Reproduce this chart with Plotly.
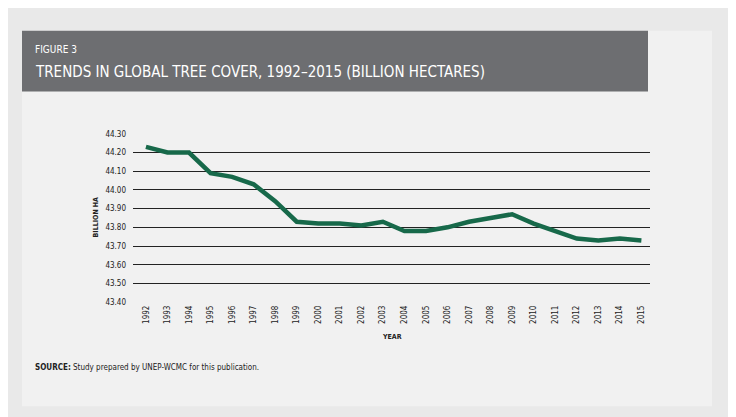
import plotly.graph_objects as go

years = [str(y) for y in range(1992, 2016)]
cover = [44.23, 44.20, 44.20, 44.09, 44.07, 44.03, 43.94, 43.83, 43.82, 43.82, 43.81, 43.83,
         43.78, 43.78, 43.80, 43.83, 43.85, 43.87, 43.82, 43.78, 43.74, 43.73, 43.74, 43.73]
y_ticks = [43.40, 43.50, 43.60, 43.70, 43.80, 43.90, 44.00, 44.10, 44.20, 44.30]

W, H = 736, 417
OFF_X, OFF_Y = 8, 8  # page margin compensation
FONT = "DejaVu Sans Condensed, Liberation Sans Narrow, sans-serif"
BG_OUT = "#e9e9e9"
BG_IN = "#f1f1f1"

def px(x):
    return (x - OFF_X) / W

def py(y):
    return 1 - (y - OFF_Y) / H

def rect(x0, x1, y0, y1, color):
    return dict(type="rect", xref="paper", yref="paper", x0=px(x0), x1=px(x1),
                y0=py(y1), y1=py(y0), fillcolor=color, line_width=0, layer="below")

fig = go.Figure(go.Scatter(x=years, y=cover, mode="lines",
                           line=dict(color="#17694a", width=4.5), showlegend=False))

fig.update_layout(
    width=W, height=H, margin=dict(l=0, r=0, t=0, b=0),
    paper_bgcolor=BG_IN, plot_bgcolor=BG_IN,
    font=dict(family=FONT, color="#222"),
    xaxis=dict(domain=[px(133), px(650)], type="category", tickangle=-90,
               tickfont=dict(size=8, color="#222"), showgrid=False, ticks="",
               range=[-0.6, 23.4]),
    yaxis=dict(domain=[py(305), py(132)], range=[43.395, 44.305], tickvals=y_ticks,
               tickformat=".2f", tickfont=dict(size=8, color="#222"),
               gridcolor="#222", gridwidth=1, zeroline=False, ticklabelstandoff=6),
    shapes=[
        rect(-20, 22, -20, 450, BG_OUT),
        rect(712, 760, -20, 450, BG_OUT),
        rect(-20, 760, -20, 28, BG_OUT),
        rect(-20, 760, 410, 450, BG_OUT),
        rect(22, 648, 28, 90, "#6d6e71"),
    ],
    annotations=[
        dict(text="FIGURE 3", x=px(33), y=py(47), xref="paper", yref="paper", xanchor="left",
             yanchor="middle", showarrow=False, font=dict(size=10, color="white")),
        dict(text="TRENDS IN GLOBAL TREE COVER, 1992–2015 (BILLION HECTARES)", x=px(33), y=py(70),
             xref="paper", yref="paper", xanchor="left", yanchor="middle", showarrow=False,
             font=dict(size=15, color="white")),
        dict(text="<b>BILLION HA</b>", x=px(90), y=py(218), xref="paper", yref="paper",
             textangle=-90, showarrow=False, font=dict(size=7)),
        dict(text="<b>YEAR</b>", x=px(392), y=py(346), xref="paper", yref="paper",
             showarrow=False, font=dict(size=7)),
        dict(text="<b>SOURCE:</b> Study prepared by UNEP-WCMC for this publication.", x=px(33),
             y=py(377), xref="paper", yref="paper", xanchor="left", showarrow=False,
             font=dict(size=8)),
    ],
)

fig.write_html("out.html")
